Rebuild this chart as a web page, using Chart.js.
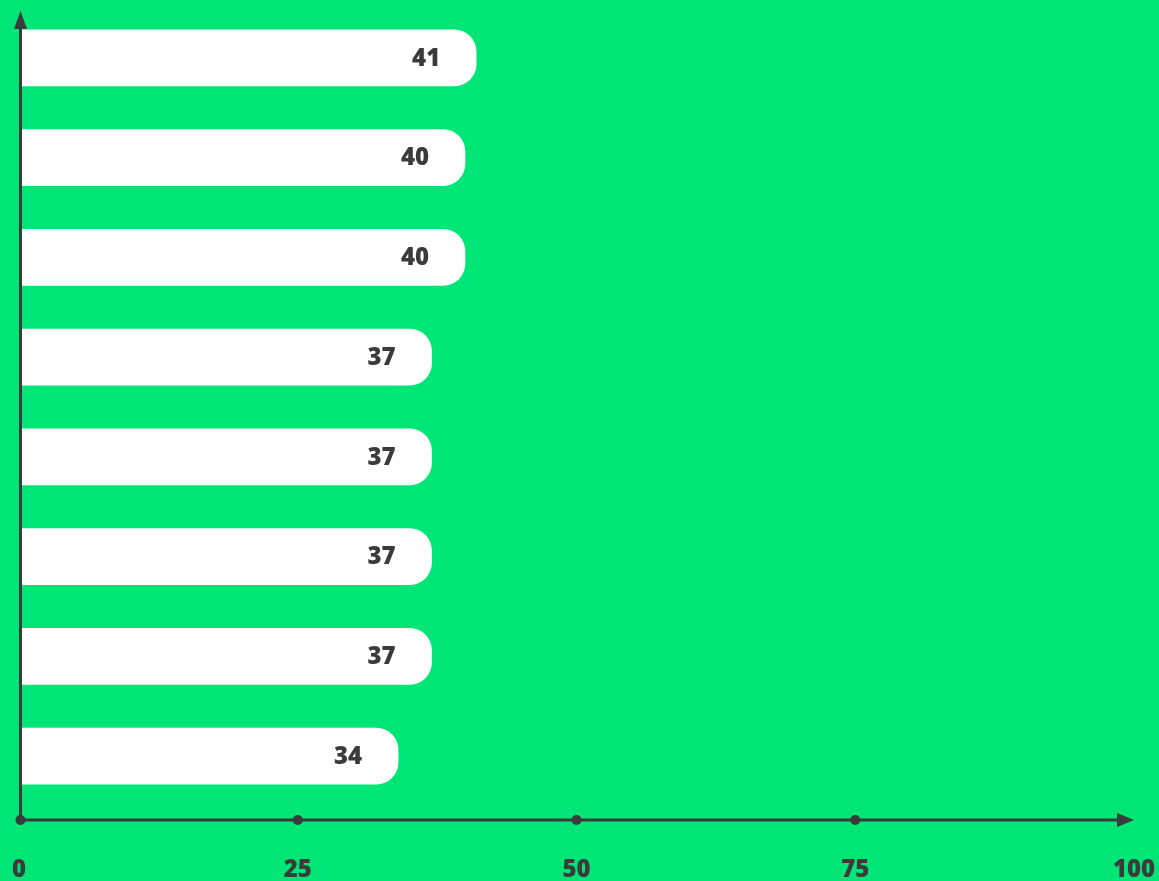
<!DOCTYPE html>
<html>
<head>
<meta charset="utf-8">
<title>Bar chart</title>
<script src="https://cdn.jsdelivr.net/npm/chart.js@4/dist/chart.umd.min.js"></script>
<style>
  html, body { margin: 0; padding: 0; background: #00e676; }
  #wrap { width: 1159px; height: 881px; position: relative; }
</style>
</head>
<body>
<div id="wrap"><canvas id="chart"></canvas></div>
<script>
// Categories, top to bottom
const categories = ['A', 'B', 'C', 'D', 'E', 'F', 'G', 'H'];
// Bar values
const values = [41, 40, 40, 37, 37, 37, 37, 34];
// Tick values along the value axis
const tickValues = [0, 25, 50, 75, 100];

const INK = '#3b3b3b';
const FONT = '"Open Sans", "DejaVu Sans", sans-serif';

// Axis lines with arrowheads and dot markers at each tick
const axesPlugin = {
  id: 'arrowAxes',
  afterDatasetsDraw(chart) {
    const ctx = chart.ctx;
    const xs = chart.scales.x;
    const x0 = xs.getPixelForValue(0) + 1.5;
    const yAxisY = 820;
    const xTip = xs.getPixelForValue(100);
    ctx.save();
    ctx.strokeStyle = INK;
    ctx.fillStyle = INK;
    ctx.lineWidth = 3;
    // vertical axis
    ctx.beginPath();
    ctx.moveTo(x0, yAxisY);
    ctx.lineTo(x0, 26);
    ctx.stroke();
    ctx.beginPath();
    ctx.moveTo(x0, 11);
    ctx.lineTo(x0 - 6.5, 29);
    ctx.lineTo(x0 + 6.5, 29);
    ctx.closePath();
    ctx.fill();
    // horizontal axis
    ctx.beginPath();
    ctx.moveTo(x0, yAxisY);
    ctx.lineTo(xTip - 14, yAxisY);
    ctx.stroke();
    ctx.beginPath();
    ctx.moveTo(xTip, yAxisY);
    ctx.lineTo(xTip - 17, yAxisY - 7);
    ctx.lineTo(xTip - 17, yAxisY + 7);
    ctx.closePath();
    ctx.fill();
    // tick dots
    tickValues.slice(0, -1).forEach(v => {
      const px = v === 0 ? x0 : xs.getPixelForValue(v);
      ctx.beginPath();
      ctx.arc(px, yAxisY, 5, 0, Math.PI * 2);
      ctx.fill();
    });
    ctx.restore();
  }
};

// Value labels inside the rounded end of each bar
const valueLabels = {
  id: 'valueLabels',
  afterDatasetsDraw(chart) {
    const ctx = chart.ctx;
    const meta = chart.getDatasetMeta(0);
    ctx.save();
    ctx.fillStyle = INK;
    ctx.font = '800 24px ' + FONT;
    ctx.textAlign = 'center';
    ctx.textBaseline = 'middle';
    meta.data.forEach((bar, i) => {
      ctx.fillText(String(values[i]), bar.x - 50, bar.y + 1);
    });
    ctx.restore();
  }
};

new Chart(document.getElementById('chart'), {
  type: 'bar',
  data: {
    labels: categories,
    datasets: [{
      data: values,
      backgroundColor: '#ffffff',
      borderWidth: 0,
      borderRadius: { topLeft: 0, bottomLeft: 0, topRight: 22, bottomRight: 22 },
      borderSkipped: false,
      barThickness: 56
    }]
  },
  options: {
    indexAxis: 'y',
    responsive: true,
    maintainAspectRatio: false,
    animation: false,
    layout: { padding: { left: 19, right: 25, top: 8, bottom: 0 } },
    plugins: {
      legend: { display: false },
      tooltip: { enabled: false }
    },
    scales: {
      y: { display: false },
      x: {
        type: 'linear',
        min: 0,
        max: 100,
        afterBuildTicks(scale) {
          scale.ticks = tickValues.map(v => ({ value: v }));
        },
        afterFit(scale) {
          scale.height = 75;
          scale.paddingLeft = 0;
          scale.paddingRight = 0;
        },
        grid: { display: false, drawTicks: false },
        border: { display: false },
        ticks: {
          color: INK,
          padding: 50,
          maxRotation: 0,
          autoSkip: false,
          font: { family: FONT, size: 24, weight: '800' }
        }
      }
    }
  },
  plugins: [axesPlugin, valueLabels]
});
</script>
</body>
</html>
